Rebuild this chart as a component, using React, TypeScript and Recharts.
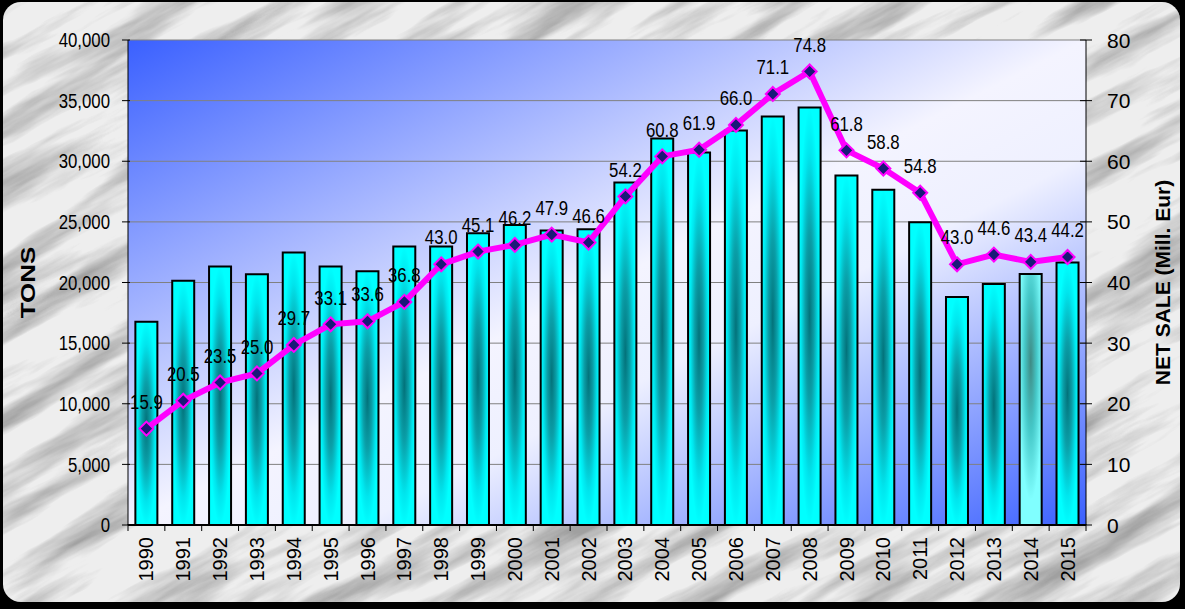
import { ComposedChart, Bar, Line, XAxis, YAxis, CartesianGrid, LabelList, Label, Cell } from 'recharts'

// values
const years = ['1990', '1991', '1992', '1993', '1994', '1995', '1996', '1997', '1998', '1999', '2000', '2001', '2002',
  '2003', '2004', '2005', '2006', '2007', '2008', '2009', '2010', '2011', '2012', '2013', '2014', '2015']
const tons = [16770, 20150, 21310, 20680, 22470, 21310, 20930, 22960, 22960, 24070, 24750, 24280, 24390,
  28240, 31870, 30720, 32530, 33690, 34430, 28820, 27640, 24970, 18810, 19880, 20710, 21640]
const netSale = [15.9, 20.5, 23.5, 25.0, 29.7, 33.1, 33.6, 36.8, 43.0, 45.1, 46.2, 47.9, 46.6,
  54.2, 60.8, 61.9, 66.0, 71.1, 74.8, 61.8, 58.8, 54.8, 43.0, 44.6, 43.4, 44.2]
const tonsTicks = [0, 5000, 10000, 15000, 20000, 25000, 30000, 35000, 40000]
const saleTicks = [0, 10, 20, 30, 40, 50, 60, 70, 80]

const data = years.map((year, i) => ({ year, tons: tons[i], sale: netSale[i] }))

const W = 1185
const H = 609
const BAND = (1086 - 128) / years.length
const FONT = "'Liberation Sans', Arial, sans-serif"

function LeftTick({ x, y, payload }: any) {
  return (
    <g>
      <line x1={x - 6} x2={x + 2} y1={y} y2={y} stroke="#000" />
      <text transform={`translate(${x - 18},${y}) scale(0.8,1)`} textAnchor="end" dominantBaseline="central"
        fontSize={21} fontFamily={FONT} fill="#000">
        {Number(payload.value).toLocaleString('en-US')}
      </text>
    </g>
  )
}

function RightTick({ x, y, payload }: any) {
  return (
    <g>
      <line x1={x - 6} x2={x + 6} y1={y} y2={y} stroke="#000" />
      <text x={x + 21} y={y} textAnchor="start" dominantBaseline="central" fontSize={21} fontFamily={FONT} fill="#000">
        {payload.value}
      </text>
    </g>
  )
}

function YearTick({ x, y, payload, index }: any) {
  return (
    <g>
      <line x1={x - BAND / 2} x2={x - BAND / 2} y1={y - 1} y2={y + 6} stroke="#000" />
      {index === years.length - 1 && (
        <line x1={x + BAND / 2} x2={x + BAND / 2} y1={y - 1} y2={y + 6} stroke="#000" />
      )}
      <text transform={`translate(${x},${y + 12}) rotate(-90)`} textAnchor="end" dominantBaseline="central"
        fontSize={20} fontFamily={FONT} fill="#000">
        {payload.value}
      </text>
    </g>
  )
}

function SaleLabel(p: any) {
  return (
    <text transform={`translate(${p.x},${p.y - 27}) scale(0.8,1)`} textAnchor="middle" dominantBaseline="central"
      fontSize={21} fontFamily={FONT} fill="#000">
      {Number(p.value).toFixed(1)}
    </text>
  )
}

function Diamond(p: any) {
  const { cx, cy, index } = p
  const s = 7
  return (
    <polygon key={`dot-${index}`} points={`${cx},${cy - s} ${cx + s},${cy} ${cx},${cy + s} ${cx - s},${cy}`}
      fill="#1a1a78" stroke="#ff00ff" strokeWidth={2} />
  )
}

function AxisTitle({ viewBox, text, dx, size, squeeze, fallbackX }: any) {
  const vb = viewBox || { x: fallbackX, y: 40, width: 0, height: 485 }
  const cx = vb.x + dx
  const cy = vb.y + vb.height / 2
  return (
    <text transform={`translate(${cx},${cy}) rotate(-90) scale(1,${squeeze})`} textAnchor="middle"
      dominantBaseline="central" fontSize={size} fontWeight="bold" fontFamily={FONT} fill="#000">
      {text}
    </text>
  )
}

export default function App() {
  return (
    <div style={{ position: 'absolute', left: 0, top: 0, width: W, height: H }}>
      <svg width={W} height={H} style={{ position: 'absolute', left: 0, top: 0 }}>
        <defs>
          <filter id="marble" x="0" y="0" width="100%" height="100%">
            <feTurbulence type="fractalNoise" baseFrequency="0.005 0.035" numOctaves={5} seed={11} />
            <feColorMatrix type="matrix" values="0 0 0 0 0.35  0 0 0 0 0.35  0 0 0 0 0.35  2.4 0 0 0 -1.05" />
          </filter>
          <clipPath id="frameClip">
            <rect x={3} y={2} width={1177} height={600} rx={18} />
          </clipPath>
        </defs>
        <rect x={0} y={0} width={W} height={H} fill="#000" />
        <rect x={3} y={2} width={1177} height={600} rx={18} fill="#eeeeee" />
        <g clipPath="url(#frameClip)">
          <rect x={-300} y={-300} width={1800} height={1200} fill="#fff" filter="url(#marble)"
            transform="rotate(-28 592 304)" />
        </g>
      </svg>
      <div style={{ position: 'absolute', left: 0, top: 0 }}>
        <ComposedChart width={W} height={H} data={data} margin={{ top: 40, right: 0, bottom: 0, left: 0 }}
          barCategoryGap="20%">
          <defs>
            <linearGradient id="plotBg" x1="0" y1="0" x2="1" y2="1">
              <stop offset="0" stopColor="#3a60ff" />
              <stop offset="0.5" stopColor="#f4f4ff" />
              <stop offset="0.62" stopColor="#eef0ff" />
              <stop offset="1" stopColor="#3a60ff" />
            </linearGradient>
            <radialGradient id="barFill" cx="50%" cy="50%" r="50%">
              <stop offset="0" stopColor="#03727a" />
              <stop offset="0.4" stopColor="#0a9fa8" />
              <stop offset="0.78" stopColor="#00e6ee" />
              <stop offset="1" stopColor="#00ffff" />
            </radialGradient>
            <radialGradient id="barFillLight" cx="50%" cy="35%" r="55%">
              <stop offset="0" stopColor="#3f8a84" />
              <stop offset="0.5" stopColor="#45c8c8" />
              <stop offset="1" stopColor="#80ffff" />
            </radialGradient>
          </defs>
          <CartesianGrid yAxisId="left" vertical={false} stroke="#808080" fill="url(#plotBg)" fillOpacity={1} />
          <XAxis dataKey="year" height={84} interval={0} tickSize={0} tickMargin={0} tickLine={false}
            axisLine={{ stroke: '#000', strokeWidth: 2 }} tick={<YearTick />} />
          <YAxis yAxisId="left" width={128} domain={[0, 40000]} ticks={tonsTicks} interval={0} tickSize={0}
            tickMargin={0} tickLine={false} axisLine={{ stroke: '#000' }} tick={<LeftTick />}>
            <Label content={(p: any) => <AxisTitle viewBox={p.viewBox} text="TONS" dx={28} size={26} squeeze={0.77} fallbackX={0} />} />
          </YAxis>
          <YAxis yAxisId="right" orientation="right" width={99} domain={[0, 80]} ticks={saleTicks} interval={0}
            tickSize={0} tickMargin={0} tickLine={false} axisLine={{ stroke: '#000' }} tick={<RightTick />}>
            <Label content={(p: any) => <AxisTitle viewBox={p.viewBox} text="NET SALE (Mill. Eur)" dx={76} size={21} squeeze={1} fallbackX={1086} />} />
          </YAxis>
          <Bar yAxisId="left" dataKey="tons" fill="url(#barFill)" stroke="#000" strokeWidth={2} isAnimationActive={false}>
            {data.map((d) => (
              <Cell key={d.year} fill={d.year === '2014' ? 'url(#barFillLight)' : 'url(#barFill)'} />
            ))}
          </Bar>
          <Line yAxisId="right" dataKey="sale" stroke="#ff00ff" strokeWidth={6} dot={Diamond} activeDot={false}
            isAnimationActive={false}>
            <LabelList dataKey="sale" content={SaleLabel} />
          </Line>
        </ComposedChart>
      </div>
    </div>
  )
}
